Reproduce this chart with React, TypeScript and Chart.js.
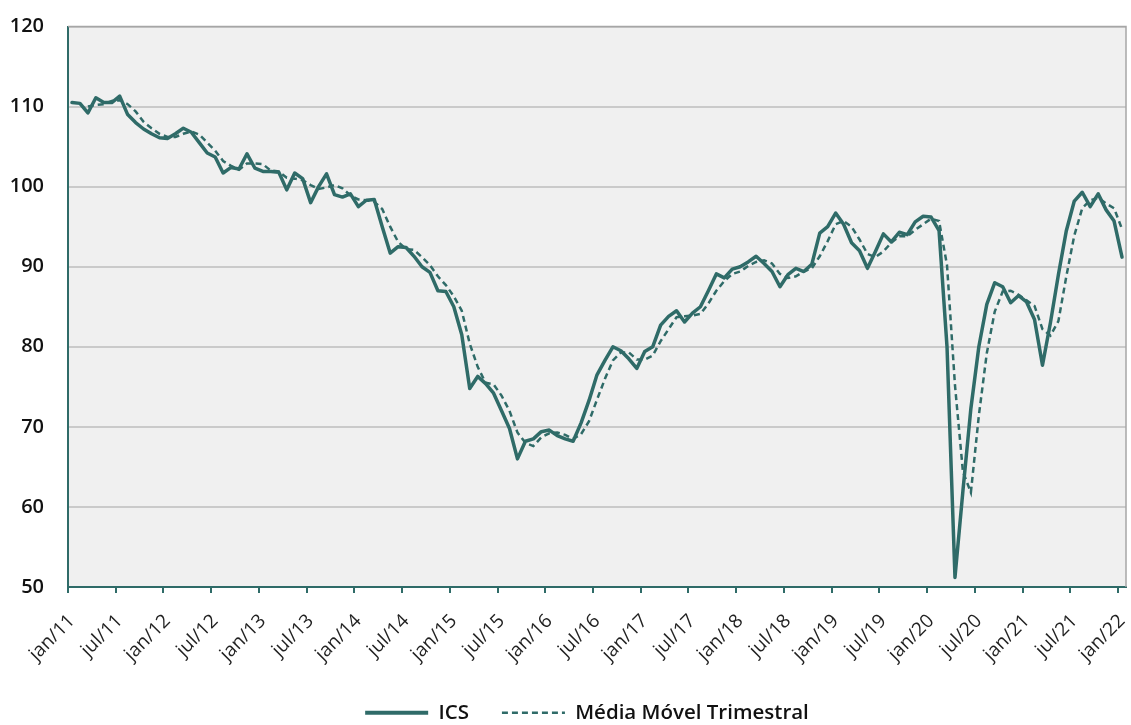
import React, { useEffect, useRef } from 'react';
import { Chart, registerables } from 'chart.js';

Chart.register(...registerables);

const monthNames = ['jan', 'fev', 'mar', 'abr', 'mai', 'jun', 'jul', 'ago', 'set', 'out', 'nov', 'dez'];
const yearNames = ['11', '12', '13', '14', '15', '16', '17', '18', '19', '20', '21', '22'];

const categories: string[] = [];
yearNames.forEach((y, yi) => {
  monthNames.forEach((m, mi) => {
    if (yi < yearNames.length - 1 || mi === 0) categories.push(`${m}/${y}`);
  });
});

const icsValues = [
  110.5, 110.4, 109.2, 111.1, 110.5, 110.5, 111.3, 109.0, 108.0, 107.2, 106.6, 106.1,
  106.0, 106.6, 107.3, 106.8, 105.5, 104.2, 103.7, 101.7, 102.4, 102.2, 104.1, 102.3,
  101.9, 101.9, 101.8, 99.6, 101.7, 101.0, 98.0, 100.0, 101.6, 99.0, 98.7, 99.1,
  97.5, 98.3, 98.4, 95.0, 91.7, 92.5, 92.4, 91.3, 90.0, 89.3, 87.0, 86.9,
  85.0, 81.5, 74.8, 76.3, 75.4, 74.2, 72.0, 69.8, 66.0, 68.2, 68.5, 69.4,
  69.6, 68.9, 68.5, 68.2, 70.5, 73.3, 76.5, 78.3, 80.0, 79.5, 78.5, 77.3,
  79.4, 80.0, 82.7, 83.8, 84.5, 83.1, 84.2, 85.0, 87.0, 89.1, 88.6, 89.7,
  90.0, 90.6, 91.3, 90.4, 89.4, 87.5, 89.0, 89.8, 89.4, 90.3, 94.2, 95.0,
  96.7, 95.3, 93.0, 92.0, 89.8, 91.9, 94.1, 93.1, 94.3, 94.0, 95.6, 96.3,
  96.2, 94.5, 80.0, 51.2, 62.0, 72.3, 80.0, 85.3, 88.0, 87.5, 85.5, 86.4,
  85.6, 83.4, 77.7, 83.0, 89.0, 94.5, 98.2, 99.3, 97.5, 99.1, 97.1, 95.7,
  91.2,
];

const mediaMovelValues = [
  null, null, 110.0, 110.2, 110.3, 110.7, 110.8, 110.3, 109.4, 108.1, 107.3, 106.6,
  106.2, 106.2, 106.6, 106.9, 106.5, 105.5, 104.5, 103.2, 102.6, 102.1, 102.9, 102.9,
  102.8, 102.0, 101.9, 101.1, 101.0, 100.8, 100.2, 99.7, 99.9, 100.2, 99.8, 98.9,
  98.4, 98.3, 98.1, 97.2, 95.0, 93.1, 92.2, 92.1, 91.2, 90.2, 88.8, 87.7,
  86.3, 84.5, 80.4, 77.5, 75.5, 75.3, 73.9, 72.0, 69.3, 68.0, 67.6, 68.7,
  69.2, 69.3, 69.0, 68.5, 69.1, 70.7, 73.4, 76.0, 78.3, 79.3, 79.3, 78.4,
  78.4, 78.9, 80.7, 82.2, 83.7, 83.8, 83.9, 84.1, 85.4, 87.0, 88.2, 89.1,
  89.4, 90.1, 90.6, 90.8, 90.4, 89.1, 88.6, 88.8, 89.4, 89.8, 91.3, 93.2,
  95.3, 95.7, 95.0, 93.4, 91.6, 91.2, 91.9, 93.0, 93.8, 93.8, 94.6, 95.3,
  96.0, 95.7, 90.2, 75.2, 64.4, 61.8, 71.4, 79.2, 84.4, 86.9, 87.0, 86.5,
  85.8, 85.1, 82.2, 81.4, 83.2, 88.8, 93.9, 97.3, 98.3, 98.6, 97.9, 97.3,
  94.7,
];

const TEAL = '#2f6b68';

const plotFrame = {
  id: 'plotFrame',
  afterLayout(chart: any) {
    if (chart.legend) {
      chart.legend.left += 48;
    }
  },
  beforeDraw(chart: any) {
    const { ctx, chartArea } = chart;
    if (!chartArea) return;
    ctx.save();
    ctx.fillStyle = '#f0f0f0';
    ctx.fillRect(chartArea.left, chartArea.top, chartArea.right - chartArea.left, chartArea.bottom - chartArea.top);
    ctx.restore();
  },
  beforeDatasetsDraw(chart: any) {
    const { ctx, chartArea } = chart;
    ctx.save();
    ctx.strokeStyle = '#a6a6a6';
    ctx.lineWidth = 1.5;
    ctx.beginPath();
    ctx.moveTo(chartArea.left, chartArea.top);
    ctx.lineTo(chartArea.right, chartArea.top);
    ctx.lineTo(chartArea.right, chartArea.bottom);
    ctx.stroke();
    ctx.restore();
  },
};

export default function App() {
  const canvasRef = useRef<HTMLCanvasElement | null>(null);

  useEffect(() => {
    document.body.style.margin = '0';
    const canvas = canvasRef.current;
    if (!canvas) return;
    Chart.defaults.font.family = 'Open Sans';
    const chart = new Chart(canvas, {
      type: 'line',
      data: {
        labels: categories,
        datasets: [
          {
            label: 'ICS',
            data: icsValues,
            borderColor: TEAL,
            backgroundColor: TEAL,
            borderWidth: 3.5,
            pointRadius: 0,
            tension: 0,
            borderJoinStyle: 'round',
            borderCapStyle: 'round',
          },
          {
            label: 'Média Móvel Trimestral',
            data: mediaMovelValues,
            borderColor: TEAL,
            backgroundColor: TEAL,
            borderWidth: 2.5,
            borderDash: [6, 4],
            pointRadius: 0,
            tension: 0,
            borderCapStyle: 'butt',
          },
        ],
      },
      options: {
        responsive: false,
        animation: false,
        devicePixelRatio: 1,
        layout: { padding: { top: 26.5, right: 5, left: 0, bottom: 0 } },
        plugins: {
          tooltip: { enabled: false },
          legend: {
            position: 'bottom',
            labels: {
              usePointStyle: true,
              pointStyle: 'line',
              pointStyleWidth: 63,
              padding: 33,
              color: '#111111',
              font: { family: 'Open Sans', size: 20.5, weight: '600' },
              generateLabels: (ch: any) => {
                const items = Chart.defaults.plugins.legend.labels.generateLabels(ch);
                items.forEach((it: any, i: number) => {
                  const ds: any = ch.data.datasets[i];
                  it.lineDash = ds.borderDash || [];
                  it.lineWidth = i === 0 ? 4 : 2.5;
                  it.lineCap = 'butt';
                  it.pointStyle = 'line';
                  it.strokeStyle = TEAL;
                });
                return items;
              },
            },
          },
        },
        scales: {
          x: {
            type: 'category',
            offset: true,
            afterFit: (scale: any) => {
              scale.height = 82.5;
              scale.paddingLeft = 0;
              scale.paddingRight = 0;
            },
            grid: {
              offset: true,
              drawOnChartArea: false,
              drawTicks: true,
              tickLength: 6,
              lineWidth: 2,
              color: (ctx: any) => (ctx.index % 6 === 0 ? TEAL : 'rgba(0,0,0,0)'),
            },
            border: { color: TEAL, width: 2 },
            ticks: {
              autoSkip: false,
              maxRotation: 45,
              minRotation: 45,
              padding: 17,
              color: '#222222',
              font: { family: 'Open Sans', size: 19 },
              callback: function (this: any, value: any, index: number) {
                return index % 6 === 0 ? this.getLabelForValue(value) : '';
              },
            },
          },
          y: {
            min: 50,
            max: 120,
            afterFit: (scale: any) => {
              scale.width = 68;
              scale.paddingTop = 0;
              scale.paddingBottom = 0;
            },
            grid: {
              color: '#cacaca',
              lineWidth: 2,
              drawTicks: false,
            },
            border: { color: TEAL, width: 2 },
            ticks: {
              stepSize: 10,
              padding: 24,
              color: '#111111',
              font: { family: 'Open Sans', size: 20, weight: '600' },
            },
          },
        },
      },
      plugins: [plotFrame],
    } as any);
    return () => chart.destroy();
  }, []);

  return (
    <div style={{ width: 1131, height: 725, overflow: 'hidden' }}>
      <canvas ref={canvasRef} width={1131} height={733} style={{ display: 'block' }} />
    </div>
  );
}
